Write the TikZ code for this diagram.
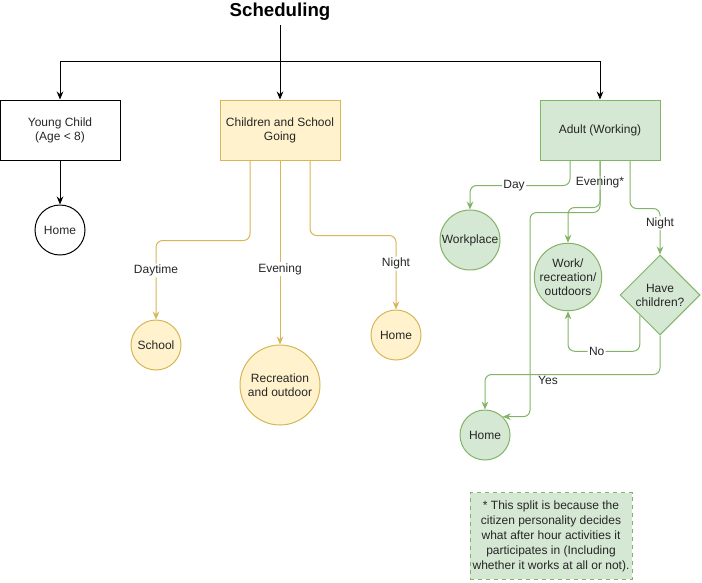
\documentclass[tikz,border=0pt]{standalone}
\usepackage{fontspec}
\setmainfont{Liberation Sans}
\usetikzlibrary{shapes.geometric,arrows.meta}

\definecolor{kidfill}{HTML}{FFF2CC}
\definecolor{kidline}{HTML}{D6B656}
\definecolor{adultfill}{HTML}{D5E8D4}
\definecolor{adultline}{HTML}{82B366}

\begin{document}
\begin{tikzpicture}[
        x=0.75pt, y=-0.75pt,
        every node/.style={font=\fontsize{9}{10.5}\selectfont, text=black!85},
        group/.style={rectangle, draw, line width=0.75pt, minimum width=90pt, minimum height=45pt, align=center, inner sep=2pt},
        place/.style={circle, draw, line width=0.75pt, align=center, inner sep=0pt},
        kid/.style={draw=kidline, fill=kidfill},
        adult/.style={draw=adultline, fill=adultfill},
        bedge/.style={draw=black, line width=0.75pt, -{Stealth[length=6pt, width=5pt]}},
        kedge/.style={draw=kidline, line width=0.75pt, rounded corners=5pt, -{Stealth[length=6pt, width=5pt]}},
        aedge/.style={draw=adultline, line width=0.75pt, rounded corners=5pt, -{Stealth[length=6pt, width=5pt]}},
        edge_label/.style={fill=white, inner sep=1pt},
        note/.style={rectangle, draw=adultline, fill=adultfill, dashed, line width=0.75pt, minimum width=121.5pt, minimum height=65pt, align=center, inner sep=1pt, font=\fontsize{9}{11.25}\selectfont}
    ]
        \useasboundingbox (0,0) rectangle (702,582);

        % Title
        \node[font=\bfseries\fontsize{14}{17}\selectfont, text=black] (title) at (280,12) {Scheduling};

        % Groups
        \node[group] (young) at (60,130) {Young Child\\(Age < 8)};
        \node[group, kid] (kids) at (280,130) {Children and School\\Going};
        \node[group, adult] (adult) at (600,130) {Adult (Working)};

        % Young child
        \node[place, minimum size=37.5pt] (home1) at (60,230) {Home};

        % School going children
        \node[place, kid, minimum size=37.5pt] (school) at (156,345) {School};
        \node[place, kid, minimum size=60pt] (recre) at (280,385) {Recreation\\and outdoor};
        \node[place, kid, minimum size=37.5pt] (home2) at (396,335) {Home};

        % Working adult
        \node[place, adult, minimum size=45pt] (workplace) at (470,240) {Workplace};
        \node[place, adult, minimum size=48.75pt] (wrk) at (568,277) {Work/\\recreation/\\outdoors};
        \node[diamond, adult, line width=0.75pt, minimum width=60pt, minimum height=60pt, aspect=1, inner sep=0pt, align=center] (have) at (660,295) {Have\\children?};
        \node[place, adult, minimum size=37.5pt] (home3) at (485,435) {Home};

        % Note
        \node[note] (footnote) at (551,536) {* This split is because the\\citizen personality decides\\what after hour activities it\\participates in (Including\\whether it works at all or not).};

        % Top level connections
        \coordinate (split) at (280,61);
        \draw[bedge] (title) -- (kids);
        \draw[bedge] (split) -| (young);
        \draw[bedge] (split) -| (adult);
        \draw[bedge] (young) -- (home1);

        % Children connections
        \draw[kedge] ([xshift=-22.5pt]kids.south) -- ++(0,80) -| (school.north) node[edge_label, pos=0.69] {Daytime};
        \draw[kedge] (kids.south) -- (recre.north) node[edge_label, pos=0.59] {Evening};
        \draw[kedge] ([xshift=22.5pt]kids.south) -- ++(0,75) -| (home2.north) node[edge_label, pos=0.69] {Night};

        % Adult connections
        \draw[aedge] ([xshift=-22.5pt]adult.south) -- ++(0,25) -| (workplace.north) node[edge_label, pos=0.28] {Day};
        \draw[aedge] (adult.south) -- ++(0,47) node[edge_label, pos=0.47] {Evening*} -| (wrk.north);
        \draw[aedge] (adult.south) -- ++(0,52) -- ++(-70,0) |- (home3.46);
        \draw[aedge] ([xshift=22.5pt]adult.south) -- ++(0,48) -| (have.north) node[edge_label, pos=0.66] {Night};
        \draw[aedge] (have.south west) -- ++(0,36) -| (wrk.south) node[edge_label, pos=0.3] {No};
        \draw[aedge] (have.south) -- ++(0,39) -| (home3.north) node[pos=0.32, below, inner sep=1pt] {Yes};

    \end{tikzpicture}
\end{document}
